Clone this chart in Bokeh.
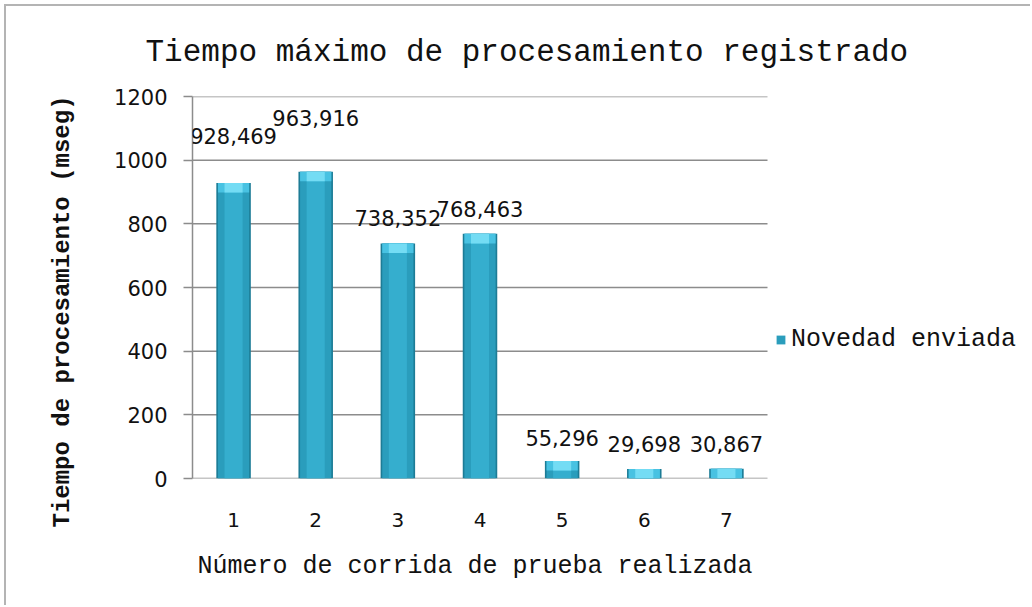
from bokeh.plotting import figure
from bokeh.models import (ColumnDataSource, Range1d, LabelSet, Legend,
                          LegendItem, Title, FixedTicker)
from bokeh.core.properties import value
from bokeh.embed import file_html
from bokeh.resources import INLINE

# ---- data ----
categories = [1, 2, 3, 4, 5, 6, 7]
values = [928.469, 963.916, 738.352, 768.463, 55.296, 29.698, 30.867]
value_labels = ["928,469", "963,916", "738,352", "768,463", "55,296", "29,698", "30,867"]
y_ticks = [0, 200, 400, 600, 800, 1000, 1200]

title_text = "Tiempo máximo de procesamiento registrado"
x_title = "Número de corrida de prueba realizada"
y_title = "Tiempo de procesamiento (mseg)"
series_name = "Novedad enviada"

# ---- styling / layout ----
label_offsets = [47, 54, 25, 25, 23, 25, 25]   # px above bar tops
cap_depth = 30                                  # data units of the lighter top bevel
MONO = "Liberation Mono"
SANS = "DejaVu Sans"
GRID = "#8c8c8c"

W, H = 1026, 601
LEFT, TOP, FRAME_H = 186, 90, 382
CAT_PX = 575 / 7
frame_w = W - LEFT
x_start = categories[0] - 0.5
x_end = x_start + frame_w / CAT_PX
grid_x0 = categories[0] - 0.5
grid_x1 = categories[-1] + 0.5

cap_bottom = [max(v - cap_depth, 0) for v in values]
src = ColumnDataSource(dict(x=categories, top=values, cap_bottom=cap_bottom,
                            lab=value_labels, off=label_offsets))
grid_src = ColumnDataSource(dict(y=y_ticks, x0=[grid_x0] * len(y_ticks),
                                 x1=[grid_x1] * len(y_ticks)))

p = figure(width=W, height=H, x_range=Range1d(x_start, x_end),
           y_range=Range1d(0, 1200), output_backend="svg", toolbar_location=None,
           min_border_left=LEFT, min_border_right=0, min_border_top=TOP,
           min_border_bottom=H - TOP - FRAME_H)
p.styles = {"border-left": "2px solid #b4b4b4", "border-top": "2px solid #b4b4b4",
            "margin-left": "4px", "margin-top": "4px"}
p.outline_line_color = None
p.background_fill_color = "white"
p.border_fill_color = "white"

# title
p.title.text = title_text
p.title.text_font = MONO
p.title.text_font_size = "31px"
p.title.text_font_style = "normal"
p.title.text_color = "#111111"
p.title.align = "left"
p.title.offset = -47
p.title.standoff = 53

# gridlines (only over the category area)
p.segment(x0="x0", x1="x1", y0="y", y1="y", source=grid_src,
          line_color=GRID, line_width=1.5)

# bars (layered to mimic the cylinder shading)
p.vbar(x="x", top="top", bottom=0, width=0.42, source=src,
       fill_color="#1d7c96", line_color=None)
mid = p.vbar(x="x", top="top", bottom=0, width=0.38, source=src,
             fill_color="#2a9dbc", line_color=None)
p.vbar(x="x", top="top", bottom=0, width=0.22, source=src,
       fill_color="#35aece", line_color=None)
p.vbar(x="x", top="top", bottom="cap_bottom", width=0.38, source=src,
       fill_color="#48c2e2", line_color=None)
p.vbar(x="x", top="top", bottom="cap_bottom", width=0.22, source=src,
       fill_color="#74dcf4", line_color=None)

# data labels
labels = LabelSet(x="x", y="top", text="lab", y_offset="off", source=src,
                  text_align="center", text_baseline="middle",
                  text_font=value(SANS), text_font_size="21px", text_color="#111111")
p.add_layout(labels)

# axes
p.yaxis.ticker = FixedTicker(ticks=y_ticks)
p.yaxis.major_label_text_font = SANS
p.yaxis.major_label_text_font_size = "21px"
p.yaxis.major_label_text_color = "#111111"
p.yaxis.axis_line_color = GRID
p.yaxis.axis_line_width = 1.5
p.yaxis.major_tick_line_color = GRID
p.yaxis.major_tick_line_width = 1.5
p.yaxis.major_tick_out = 9
p.yaxis.major_tick_in = 0
p.yaxis.minor_tick_line_color = None
p.yaxis.major_label_standoff = 16

p.xaxis.ticker = FixedTicker(ticks=categories)
p.xaxis.major_label_text_font = SANS
p.xaxis.major_label_text_font_size = "20px"
p.xaxis.major_label_text_color = "#111111"
p.xaxis.axis_line_color = None
p.xaxis.major_tick_line_color = None
p.xaxis.minor_tick_line_color = None
p.xaxis.major_label_standoff = 28

xtitle = Title(text=x_title, align="left", text_font=MONO, text_font_size="25px",
               text_font_style="normal", text_color="#111111", standoff=41, offset=5)
p.add_layout(xtitle, "below")

ytitle = Title(text=y_title, align="left", text_font=MONO, text_font_size="24px",
               text_font_style="bold", text_color="#111111", standoff=71, offset=-49)
p.add_layout(ytitle, "left")

p.xgrid.grid_line_color = None
p.ygrid.grid_line_color = None

legend = Legend(items=[LegendItem(label=series_name, renderers=[mid])],
                location=(583, 124), orientation="vertical",
                label_text_font=MONO, label_text_font_size="25px",
                label_text_color="#111111", glyph_width=11, glyph_height=11,
                label_standoff=5, padding=0, margin=0, spacing=0,
                border_line_color=None, background_fill_alpha=0)
p.add_layout(legend, "center")

open("out.html", "w").write(file_html(p, INLINE))
